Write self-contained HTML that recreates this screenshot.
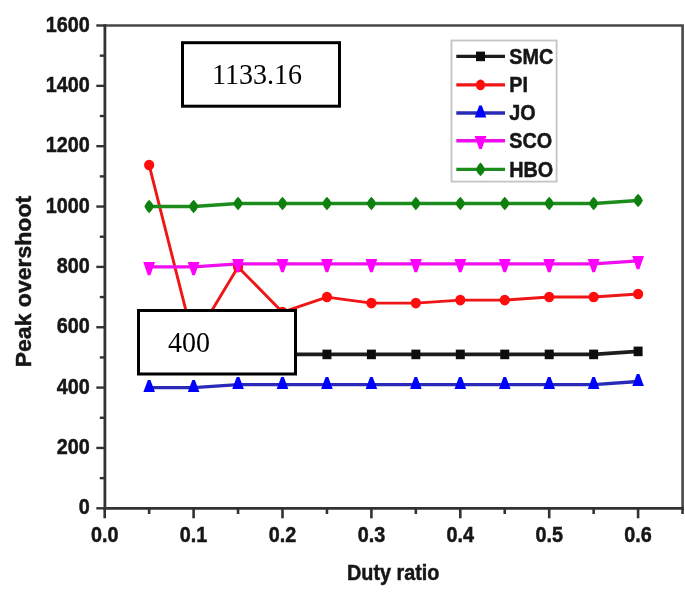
<!DOCTYPE html>
<html><head><meta charset="utf-8"><style>
html,body{margin:0;padding:0;background:#fff;}
body{width:685px;height:597px;overflow:hidden;}
svg{display:block;}
text{font-family:"Liberation Sans",sans-serif;font-weight:bold;fill:#141414;stroke:#141414;stroke-width:0.45px;}
text.serif{font-family:"Liberation Serif",serif;font-weight:normal;font-size:28px;fill:#000;stroke:none;}
</style></head><body>
<svg width="685" height="597" viewBox="0 0 685 597">
<defs><filter id="b" x="-2%" y="-2%" width="104%" height="104%"><feGaussianBlur stdDeviation="0.65"/></filter><filter id="n"><feOffset dx="0" dy="0"/></filter></defs>
<g filter="url(#b)">
<rect width="685" height="597" fill="#fff"/>
<line x1="96.30" y1="508.30" x2="104.90" y2="508.30" stroke="#333333" stroke-width="2.4"/>
<line x1="99.80" y1="478.12" x2="104.90" y2="478.12" stroke="#333333" stroke-width="2.4"/>
<line x1="96.30" y1="447.95" x2="104.90" y2="447.95" stroke="#333333" stroke-width="2.4"/>
<line x1="99.80" y1="417.77" x2="104.90" y2="417.77" stroke="#333333" stroke-width="2.4"/>
<line x1="96.30" y1="387.60" x2="104.90" y2="387.60" stroke="#333333" stroke-width="2.4"/>
<line x1="99.80" y1="357.43" x2="104.90" y2="357.43" stroke="#333333" stroke-width="2.4"/>
<line x1="96.30" y1="327.25" x2="104.90" y2="327.25" stroke="#333333" stroke-width="2.4"/>
<line x1="99.80" y1="297.07" x2="104.90" y2="297.07" stroke="#333333" stroke-width="2.4"/>
<line x1="96.30" y1="266.90" x2="104.90" y2="266.90" stroke="#333333" stroke-width="2.4"/>
<line x1="99.80" y1="236.73" x2="104.90" y2="236.73" stroke="#333333" stroke-width="2.4"/>
<line x1="96.30" y1="206.55" x2="104.90" y2="206.55" stroke="#333333" stroke-width="2.4"/>
<line x1="99.80" y1="176.38" x2="104.90" y2="176.38" stroke="#333333" stroke-width="2.4"/>
<line x1="96.30" y1="146.20" x2="104.90" y2="146.20" stroke="#333333" stroke-width="2.4"/>
<line x1="99.80" y1="116.02" x2="104.90" y2="116.02" stroke="#333333" stroke-width="2.4"/>
<line x1="96.30" y1="85.85" x2="104.90" y2="85.85" stroke="#333333" stroke-width="2.4"/>
<line x1="99.80" y1="55.68" x2="104.90" y2="55.68" stroke="#333333" stroke-width="2.4"/>
<line x1="96.30" y1="25.50" x2="104.90" y2="25.50" stroke="#333333" stroke-width="2.4"/>
<line x1="104.70" y1="508.40" x2="104.70" y2="518.30" stroke="#333333" stroke-width="2.6"/>
<line x1="149.15" y1="508.40" x2="149.15" y2="514.00" stroke="#333333" stroke-width="2.6"/>
<line x1="193.60" y1="508.40" x2="193.60" y2="518.30" stroke="#333333" stroke-width="2.6"/>
<line x1="238.05" y1="508.40" x2="238.05" y2="514.00" stroke="#333333" stroke-width="2.6"/>
<line x1="282.50" y1="508.40" x2="282.50" y2="518.30" stroke="#333333" stroke-width="2.6"/>
<line x1="326.95" y1="508.40" x2="326.95" y2="514.00" stroke="#333333" stroke-width="2.6"/>
<line x1="371.40" y1="508.40" x2="371.40" y2="518.30" stroke="#333333" stroke-width="2.6"/>
<line x1="415.85" y1="508.40" x2="415.85" y2="514.00" stroke="#333333" stroke-width="2.6"/>
<line x1="460.30" y1="508.40" x2="460.30" y2="518.30" stroke="#333333" stroke-width="2.6"/>
<line x1="504.75" y1="508.40" x2="504.75" y2="514.00" stroke="#333333" stroke-width="2.6"/>
<line x1="549.20" y1="508.40" x2="549.20" y2="518.30" stroke="#333333" stroke-width="2.6"/>
<line x1="593.65" y1="508.40" x2="593.65" y2="514.00" stroke="#333333" stroke-width="2.6"/>
<line x1="638.10" y1="508.40" x2="638.10" y2="518.30" stroke="#333333" stroke-width="2.6"/>
<line x1="682.55" y1="508.40" x2="682.55" y2="514.00" stroke="#333333" stroke-width="2.6"/>
<path d="M104.90 25.50H682.60V508.40" fill="none" stroke="#474747" stroke-width="2.6"/>
<path d="M104.90 24.20V508.40H683.90" fill="none" stroke="#333333" stroke-width="2.8"/>
<text transform="translate(89.80 514.30) scale(1 1.14)" text-anchor="end" font-size="19.8">0</text>
<text transform="translate(89.80 453.95) scale(1 1.14)" text-anchor="end" font-size="19.8">200</text>
<text transform="translate(89.80 393.60) scale(1 1.14)" text-anchor="end" font-size="19.8">400</text>
<text transform="translate(89.80 333.25) scale(1 1.14)" text-anchor="end" font-size="19.8">600</text>
<text transform="translate(89.80 272.90) scale(1 1.14)" text-anchor="end" font-size="19.8">800</text>
<text transform="translate(89.80 212.55) scale(1 1.14)" text-anchor="end" font-size="19.8">1000</text>
<text transform="translate(89.80 152.20) scale(1 1.14)" text-anchor="end" font-size="19.8">1200</text>
<text transform="translate(89.80 91.85) scale(1 1.14)" text-anchor="end" font-size="19.8">1400</text>
<text transform="translate(89.80 31.50) scale(1 1.14)" text-anchor="end" font-size="19.8">1600</text>
<text transform="translate(104.70 542.00) scale(1 1.14)" text-anchor="middle" font-size="19.8">0.0</text>
<text transform="translate(193.60 542.00) scale(1 1.14)" text-anchor="middle" font-size="19.8">0.1</text>
<text transform="translate(282.50 542.00) scale(1 1.14)" text-anchor="middle" font-size="19.8">0.2</text>
<text transform="translate(371.40 542.00) scale(1 1.14)" text-anchor="middle" font-size="19.8">0.3</text>
<text transform="translate(460.30 542.00) scale(1 1.14)" text-anchor="middle" font-size="19.8">0.4</text>
<text transform="translate(549.20 542.00) scale(1 1.14)" text-anchor="middle" font-size="19.8">0.5</text>
<text transform="translate(638.10 542.00) scale(1 1.14)" text-anchor="middle" font-size="19.8">0.6</text>
<text transform="translate(393.20 580.40) scale(1 1.14)" text-anchor="middle" font-size="19.8">Duty ratio</text>
<text transform="translate(30.6 281.6) rotate(-90) scale(1.072 1)" text-anchor="middle" font-size="21.5">Peak overshoot</text>
<polyline points="149.15,357.43 193.60,357.43 238.05,354.41 282.50,354.41 326.95,354.41 371.40,354.41 415.85,354.41 460.30,354.41 504.75,354.41 549.20,354.41 593.65,354.41 638.10,351.39" fill="none" stroke="#1e1e1e" stroke-width="3.8" stroke-linejoin="round"/>
<polyline points="149.15,165.06 193.60,340.83 238.05,266.90 282.50,312.16 326.95,297.07 371.40,303.11 415.85,303.11 460.30,300.09 504.75,300.09 549.20,297.07 593.65,297.07 638.10,294.06" fill="none" stroke="#ee1616" stroke-width="2.9" stroke-linejoin="round"/>
<polyline points="149.15,387.60 193.60,387.60 238.05,384.58 282.50,384.58 326.95,384.58 371.40,384.58 415.85,384.58 460.30,384.58 504.75,384.58 549.20,384.58 593.65,384.58 638.10,381.56" fill="none" stroke="#2a2ab8" stroke-width="3.4" stroke-linejoin="round"/>
<polyline points="149.15,266.90 193.60,266.90 238.05,263.88 282.50,263.88 326.95,263.88 371.40,263.88 415.85,263.88 460.30,263.88 504.75,263.88 549.20,263.88 593.65,263.88 638.10,260.87" fill="none" stroke="#f010f0" stroke-width="3.4" stroke-linejoin="round"/>
<polyline points="149.15,206.55 193.60,206.55 238.05,203.53 282.50,203.53 326.95,203.53 371.40,203.53 415.85,203.53 460.30,203.53 504.75,203.53 549.20,203.53 593.65,203.53 638.10,200.51" fill="none" stroke="#1f8c1f" stroke-width="3.4" stroke-linejoin="round"/>
<rect x="144.65" y="352.62" width="9.0" height="9.6" fill="#111111"/>
<rect x="189.10" y="352.62" width="9.0" height="9.6" fill="#111111"/>
<rect x="233.55" y="349.61" width="9.0" height="9.6" fill="#111111"/>
<rect x="278.00" y="349.61" width="9.0" height="9.6" fill="#111111"/>
<rect x="322.45" y="349.61" width="9.0" height="9.6" fill="#111111"/>
<rect x="366.90" y="349.61" width="9.0" height="9.6" fill="#111111"/>
<rect x="411.35" y="349.61" width="9.0" height="9.6" fill="#111111"/>
<rect x="455.80" y="349.61" width="9.0" height="9.6" fill="#111111"/>
<rect x="500.25" y="349.61" width="9.0" height="9.6" fill="#111111"/>
<rect x="544.70" y="349.61" width="9.0" height="9.6" fill="#111111"/>
<rect x="589.15" y="349.61" width="9.0" height="9.6" fill="#111111"/>
<rect x="633.60" y="346.59" width="9.0" height="9.6" fill="#111111"/>
<ellipse cx="149.15" cy="165.06" rx="5.1" ry="5.3" fill="#ff0808"/>
<ellipse cx="193.60" cy="340.83" rx="5.1" ry="5.3" fill="#ff0808"/>
<ellipse cx="238.05" cy="266.90" rx="5.1" ry="5.3" fill="#ff0808"/>
<ellipse cx="282.50" cy="312.16" rx="5.1" ry="5.3" fill="#ff0808"/>
<ellipse cx="326.95" cy="297.07" rx="5.1" ry="5.3" fill="#ff0808"/>
<ellipse cx="371.40" cy="303.11" rx="5.1" ry="5.3" fill="#ff0808"/>
<ellipse cx="415.85" cy="303.11" rx="5.1" ry="5.3" fill="#ff0808"/>
<ellipse cx="460.30" cy="300.09" rx="5.1" ry="5.3" fill="#ff0808"/>
<ellipse cx="504.75" cy="300.09" rx="5.1" ry="5.3" fill="#ff0808"/>
<ellipse cx="549.20" cy="297.07" rx="5.1" ry="5.3" fill="#ff0808"/>
<ellipse cx="593.65" cy="297.07" rx="5.1" ry="5.3" fill="#ff0808"/>
<ellipse cx="638.10" cy="294.06" rx="5.1" ry="5.3" fill="#ff0808"/>
<path d="M147.85 380.00L150.45 380.00L154.95 392.10L143.35 392.10Z" fill="#0000ff"/>
<path d="M192.30 380.00L194.90 380.00L199.40 392.10L187.80 392.10Z" fill="#0000ff"/>
<path d="M236.75 376.98L239.35 376.98L243.85 389.08L232.25 389.08Z" fill="#0000ff"/>
<path d="M281.20 376.98L283.80 376.98L288.30 389.08L276.70 389.08Z" fill="#0000ff"/>
<path d="M325.65 376.98L328.25 376.98L332.75 389.08L321.15 389.08Z" fill="#0000ff"/>
<path d="M370.10 376.98L372.70 376.98L377.20 389.08L365.60 389.08Z" fill="#0000ff"/>
<path d="M414.55 376.98L417.15 376.98L421.65 389.08L410.05 389.08Z" fill="#0000ff"/>
<path d="M459.00 376.98L461.60 376.98L466.10 389.08L454.50 389.08Z" fill="#0000ff"/>
<path d="M503.45 376.98L506.05 376.98L510.55 389.08L498.95 389.08Z" fill="#0000ff"/>
<path d="M547.90 376.98L550.50 376.98L555.00 389.08L543.40 389.08Z" fill="#0000ff"/>
<path d="M592.35 376.98L594.95 376.98L599.45 389.08L587.85 389.08Z" fill="#0000ff"/>
<path d="M636.80 373.96L639.40 373.96L643.90 386.06L632.30 386.06Z" fill="#0000ff"/>
<path d="M147.85 275.20L150.45 275.20L155.05 262.10L143.25 262.10Z" fill="#ff00ff"/>
<path d="M192.30 275.20L194.90 275.20L199.50 262.10L187.70 262.10Z" fill="#ff00ff"/>
<path d="M236.75 272.18L239.35 272.18L243.95 259.08L232.15 259.08Z" fill="#ff00ff"/>
<path d="M281.20 272.18L283.80 272.18L288.40 259.08L276.60 259.08Z" fill="#ff00ff"/>
<path d="M325.65 272.18L328.25 272.18L332.85 259.08L321.05 259.08Z" fill="#ff00ff"/>
<path d="M370.10 272.18L372.70 272.18L377.30 259.08L365.50 259.08Z" fill="#ff00ff"/>
<path d="M414.55 272.18L417.15 272.18L421.75 259.08L409.95 259.08Z" fill="#ff00ff"/>
<path d="M459.00 272.18L461.60 272.18L466.20 259.08L454.40 259.08Z" fill="#ff00ff"/>
<path d="M503.45 272.18L506.05 272.18L510.65 259.08L498.85 259.08Z" fill="#ff00ff"/>
<path d="M547.90 272.18L550.50 272.18L555.10 259.08L543.30 259.08Z" fill="#ff00ff"/>
<path d="M592.35 272.18L594.95 272.18L599.55 259.08L587.75 259.08Z" fill="#ff00ff"/>
<path d="M636.80 269.17L639.40 269.17L644.00 256.06L632.20 256.06Z" fill="#ff00ff"/>
<path d="M149.15 199.75Q152.13 202.33 153.95 206.55Q152.13 210.77 149.15 213.35Q146.17 210.77 144.35 206.55Q146.17 202.33 149.15 199.75Z" fill="#0f800f"/>
<path d="M193.60 199.75Q196.58 202.33 198.40 206.55Q196.58 210.77 193.60 213.35Q190.62 210.77 188.80 206.55Q190.62 202.33 193.60 199.75Z" fill="#0f800f"/>
<path d="M238.05 196.73Q241.03 199.32 242.85 203.53Q241.03 207.75 238.05 210.33Q235.07 207.75 233.25 203.53Q235.07 199.32 238.05 196.73Z" fill="#0f800f"/>
<path d="M282.50 196.73Q285.48 199.32 287.30 203.53Q285.48 207.75 282.50 210.33Q279.52 207.75 277.70 203.53Q279.52 199.32 282.50 196.73Z" fill="#0f800f"/>
<path d="M326.95 196.73Q329.93 199.32 331.75 203.53Q329.93 207.75 326.95 210.33Q323.97 207.75 322.15 203.53Q323.97 199.32 326.95 196.73Z" fill="#0f800f"/>
<path d="M371.40 196.73Q374.38 199.32 376.20 203.53Q374.38 207.75 371.40 210.33Q368.42 207.75 366.60 203.53Q368.42 199.32 371.40 196.73Z" fill="#0f800f"/>
<path d="M415.85 196.73Q418.83 199.32 420.65 203.53Q418.83 207.75 415.85 210.33Q412.87 207.75 411.05 203.53Q412.87 199.32 415.85 196.73Z" fill="#0f800f"/>
<path d="M460.30 196.73Q463.28 199.32 465.10 203.53Q463.28 207.75 460.30 210.33Q457.32 207.75 455.50 203.53Q457.32 199.32 460.30 196.73Z" fill="#0f800f"/>
<path d="M504.75 196.73Q507.73 199.32 509.55 203.53Q507.73 207.75 504.75 210.33Q501.77 207.75 499.95 203.53Q501.77 199.32 504.75 196.73Z" fill="#0f800f"/>
<path d="M549.20 196.73Q552.18 199.32 554.00 203.53Q552.18 207.75 549.20 210.33Q546.22 207.75 544.40 203.53Q546.22 199.32 549.20 196.73Z" fill="#0f800f"/>
<path d="M593.65 196.73Q596.63 199.32 598.45 203.53Q596.63 207.75 593.65 210.33Q590.67 207.75 588.85 203.53Q590.67 199.32 593.65 196.73Z" fill="#0f800f"/>
<path d="M638.10 193.71Q641.08 196.30 642.90 200.51Q641.08 204.73 638.10 207.31Q635.12 204.73 633.30 200.51Q635.12 196.30 638.10 193.71Z" fill="#0f800f"/>
<rect x="451.5" y="40.5" width="105.10" height="141.10" fill="#fff" stroke="#c4c4c4" stroke-width="1.8"/>
<line x1="456.3" y1="56.4" x2="505.0" y2="56.4" stroke="#1e1e1e" stroke-width="3.4"/>
<rect x="476.00" y="51.60" width="9.0" height="9.6" fill="#111111"/>
<text transform="translate(509.20 63.70) scale(1 1.14)" text-anchor="start" font-size="19.8">SMC</text>
<line x1="456.3" y1="84.9" x2="505.0" y2="84.9" stroke="#ee1616" stroke-width="3.4"/>
<ellipse cx="480.50" cy="84.90" rx="4.6" ry="5.3" fill="#ff0808"/>
<text transform="translate(509.20 92.20) scale(1 1.14)" text-anchor="start" font-size="19.8">PI</text>
<line x1="456.3" y1="113.0" x2="505.0" y2="113.0" stroke="#2a2ab8" stroke-width="3.4"/>
<path d="M479.20 105.40L481.80 105.40L486.30 117.50L474.70 117.50Z" fill="#0000ff"/>
<text transform="translate(509.20 120.30) scale(1 1.14)" text-anchor="start" font-size="19.8">JO</text>
<line x1="456.3" y1="140.7" x2="505.0" y2="140.7" stroke="#f010f0" stroke-width="3.4"/>
<path d="M479.20 149.00L481.80 149.00L486.40 135.90L474.60 135.90Z" fill="#ff00ff"/>
<text transform="translate(509.20 148.00) scale(1 1.14)" text-anchor="start" font-size="19.8">SCO</text>
<line x1="456.3" y1="169.4" x2="505.0" y2="169.4" stroke="#1f8c1f" stroke-width="3.4"/>
<path d="M480.50 162.60Q483.48 165.18 485.30 169.40Q483.48 173.62 480.50 176.20Q477.52 173.62 475.70 169.40Q477.52 165.18 480.50 162.60Z" fill="#0f800f"/>
<text transform="translate(509.20 176.70) scale(1 1.14)" text-anchor="start" font-size="19.8">HBO</text>
</g>
<rect x="182.5" y="42.7" width="157" height="63.5" fill="#fff" stroke="#000" stroke-width="3"/><text transform="translate(212 84.0) scale(1 1.055)" class="serif" filter="url(#n)">1133.16</text>
<rect x="138.5" y="310.5" width="157" height="63.5" fill="#fff" stroke="#000" stroke-width="3"/><text transform="translate(168 351.8) scale(1 1.055)" class="serif" filter="url(#n)">400</text>
</svg>
</body></html>
